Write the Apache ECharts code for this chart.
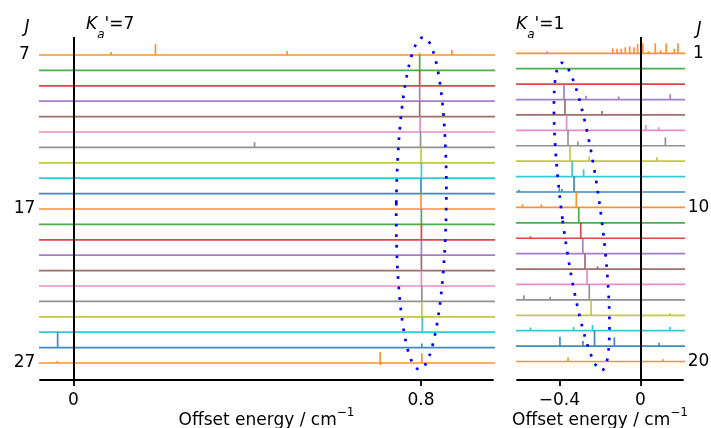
<!DOCTYPE html>
<html><head><meta charset="utf-8">
<script src="https://cdn.jsdelivr.net/npm/echarts@6/dist/echarts.min.js"></script>
<style>html,body{margin:0;padding:0;background:#fff}#c{width:711px;height:428px}</style>
</head><body><div id="c"></div>
<script>
const FONT = 'DejaVu Sans';
const tab10 = ['#1f77b4','#ff7f0e','#2ca02c','#d62728','#9467bd','#8c564b','#e377c2','#7f7f7f','#bcbd22','#17becf'];

// ---- Left panel: K_a' = 7, rows J = 7 .. 27 (top to bottom) ----
const leftTitle = "'=7";
const leftYLabels = ['7', '17', '27'];
const leftYLabelRows = [0, 10, 20];
const leftXTicks = [0, 0.8];
const leftXTickLabels = ['0', '0.8'];
// each row: list of [offset energy (cm-1), peak height in row spacings]
const leftPeaks = [
  [[0.087,0.2],[0.189,0.72],[0.492,0.26],[0.797,0.15],[0.871,0.33]],
  [[0.644,0.08],[0.797,1.0]],
  [[0.797,1.0]],
  [[0.797,1.0]],
  [[0.797,1.0]],
  [[-0.029,-0.1],[0.798,1.0]],
  [[0.417,0.35],[0.799,1.0],[0.908,0.12]],
  [[-0.037,0.07],[0.433,0.1],[0.800,1.0]],
  [[0.801,1.0]],
  [[0.800,1.0]],
  [[0.800,1.0]],
  [[0.801,1.0]],
  [[0.195,0.06],[0.801,1.0]],
  [[0.801,1.0]],
  [[0.801,1.0]],
  [[0.801,1.0]],
  [[0.802,1.0]],
  [[0.802,1.0]],
  [[0.803,1.0]],
  [[-0.036,1.0],[0.491,0.06],[0.802,0.26]],
  [[-0.037,0.13],[0.706,0.71],[0.707,-0.13],[0.802,0.63]]
];

// ---- Right panel: K_a' = 1, rows top to bottom ----
const rightTitle = "'=1";
const rightYLabels = ['1', '10', '20'];
const rightYLabelRows = [0, 10, 20];
const rightXTicks = [-0.4, 0];
const rightXTickLabels = ['\u22120.4', '0'];
const rightPeaks = [
  [[-0.59,0.1],[-0.57,0.12],[-0.545,0.08],[-0.52,0.1],[-0.49,0.08],[-0.46,0.15],[-0.43,0.08],[-0.40,0.1],[-0.36,0.08],[-0.33,0.12],[-0.30,0.08],[-0.27,0.1],[-0.235,0.08],[-0.2,0.1],[-0.165,0.1],[-0.136,0.33],[-0.115,0.3],[-0.094,0.3],[-0.074,0.4],[-0.052,0.45],[-0.031,0.4],[-0.013,0.6],[0.013,0.65],[0.04,0.15],[0.074,0.65],[0.10,0.2],[0.128,0.65],[0.15,0.12],[0.168,0.3],[0.186,0.65],[0.2,0.12]],
  [[-0.5,0.06],[-0.42,0.06],[-0.3,0.08],[-0.22,0.06],[-0.15,0.08],[-0.08,0.06],[0.03,0.06],[0.12,0.06]],
  [[-0.55,0.06],[-0.35,0.06],[-0.16,0.08],[-0.05,0.06],[0.1,0.06]],
  [[-0.377,1.0],[-0.268,0.24],[-0.19,0.08],[-0.107,0.2],[-0.047,0.12],[0.148,0.35]],
  [[-0.56,0.06],[-0.372,1.0],[-0.189,0.26],[-0.13,0.08],[-0.06,0.08],[0.15,0.06]],
  [[-0.364,1.0],[0.028,0.35],[0.091,0.2]],
  [[-0.515,0.1],[-0.357,1.0],[-0.308,0.28],[-0.2,0.08],[0.124,0.56]],
  [[-0.36,0.08],[-0.347,1.0],[-0.252,0.3],[0.082,0.26]],
  [[-0.337,1.0],[-0.28,0.48],[-0.15,0.06]],
  [[-0.6,0.15],[-0.4,0.24],[-0.387,0.2],[-0.327,1.0]],
  [[-0.581,0.2],[-0.489,0.2],[-0.4,0.08],[-0.316,1.0],[-0.252,0.1],[-0.13,0.06]],
  [[-0.304,1.0]],
  [[-0.543,0.13],[-0.294,1.0]],
  [[-0.284,1.0]],
  [[-0.273,1.0],[-0.211,0.18],[-0.07,0.08],[-0.02,0.06]],
  [[-0.263,1.0]],
  [[-0.575,0.3],[-0.515,0.12],[-0.445,0.2],[-0.252,1.0],[-0.19,0.08]],
  [[-0.243,1.0],[0.147,0.13]],
  [[-0.543,0.2],[-0.46,0.1],[-0.40,0.12],[-0.329,0.24],[-0.28,0.12],[-0.236,0.37],[0.147,0.26]],
  [[-0.397,0.6],[-0.283,0.33],[-0.226,1.0],[-0.128,0.55],[0.093,0.22]],
  [[-0.357,0.26],[-0.235,0.12],[0.112,0.15]]
];

const xLabelMain = 'Offset energy / cm';
const xLabelSup = '\u22121';

// layout
const L = {xmin:-0.0766, xmax:0.9657, ymin:-21.104, ymax:1.169, left:40, width:453};
const R = {xmin:-0.609, xmax:0.211, ymin:-21.2, ymax:1.058, left:517, width:166};
const gridTop = 37, gridHeight = 343;

function trace(peaks, row, xmin, xmax) {
  const pts = [[xmin, -row]];
  peaks.slice().sort((a,b)=>a[0]-b[0]).forEach(p => {
    pts.push([p[0], -row], [p[0], -row + p[1]], [p[0], -row]);
  });
  pts.push([xmax, -row]);
  return pts;
}

const series = [];
function addPanel(peaks, gi, P) {
  peaks.forEach((pk, i) => {
    const s = {
      type: 'line', xAxisIndex: gi, yAxisIndex: gi,
      data: trace(pk, i, P.xmin - 0.05, P.xmax + 0.05),
      showSymbol: false, symbol: 'none', animation: false, silent: true,
      lineStyle: {color: tab10[(i + 1) % 10], width: 1.7, opacity: 0.85},
      z: 2
    };
    if (i === 0) {
      s.markLine = {silent: true, symbol: 'none', animation: false, label: {show: false},
        lineStyle: {color: '#000', width: 2, type: 'solid'}, z: 5,
        data: [{xAxis: 0}]};
    }
    series.push(s);
  });
}
addPanel(leftPeaks, 0, L);
addPanel(rightPeaks, 1, R);

const xNameRich = {
  n: {fontFamily: FONT, fontSize: 17, color: '#000', lineHeight: 22, verticalAlign: 'bottom'},
  s: {fontFamily: FONT, fontSize: 12, color: '#000', lineHeight: 12, verticalAlign: 'top'}
};
function xAxisCfg(gi, P, ticks, labels) {
  return {
    type: 'value', gridIndex: gi, min: P.xmin, max: P.xmax,
    splitLine: {show: false},
    axisLine: {show: true, onZero: false, lineStyle: {color: '#000', width: 1.8}},
    axisTick: {show: true, customValues: ticks, length: 6, lineStyle: {color: '#000', width: 1.8}},
    axisLabel: {customValues: ticks, margin: 12, color: '#000', fontFamily: FONT, fontSize: 17,
      formatter: v => { const k = ticks.findIndex(t => Math.abs(t - v) < 1e-6); return k >= 0 ? labels[k] : ''; }},
    name: '{n|' + xLabelMain + '}{s|' + xLabelSup + '}',
    nameLocation: 'middle', nameGap: 27, nameMoveOverlap: false,
    nameTextStyle: {rich: xNameRich}
  };
}
function yAxisCfg(gi, P, rows, labels, pos) {
  const vals = rows.map(r => -r);
  return {
    type: 'value', gridIndex: gi, min: P.ymin, max: P.ymax, position: pos,
    splitLine: {show: false}, axisLine: {show: false}, axisTick: {show: false},
    axisLabel: {customValues: vals, margin: 15.5, align: 'center', color: '#000', fontFamily: FONT, fontSize: 17,
      formatter: v => { const k = vals.findIndex(t => Math.abs(t - v) < 1e-6); return k >= 0 ? labels[k] : ''; }}
  };
}

const titleRich = {
  k: {fontFamily: FONT, fontSize: 17, fontStyle: 'italic', color: '#000', lineHeight: 24, verticalAlign: 'top'},
  a: {fontFamily: FONT, fontSize: 12, fontStyle: 'italic', color: '#000', lineHeight: 4, verticalAlign: 'bottom'},
  n: {fontFamily: FONT, fontSize: 17, color: '#000', lineHeight: 24, verticalAlign: 'top'}
};

const option = {
  animation: false,
  backgroundColor: '#fff',
  grid: [
    {left: L.left, top: gridTop, width: L.width, height: gridHeight, outerBoundsMode: 'none', containLabel: false},
    {left: R.left, top: gridTop, width: R.width, height: gridHeight, outerBoundsMode: 'none', containLabel: false}
  ],
  xAxis: [xAxisCfg(0, L, leftXTicks, leftXTickLabels), xAxisCfg(1, R, rightXTicks, rightXTickLabels)],
  yAxis: [yAxisCfg(0, L, leftYLabelRows, leftYLabels, 'left'), yAxisCfg(1, R, rightYLabelRows, rightYLabels, 'right')],
  series: series
};

const chart = echarts.init(document.getElementById('c'), null, {renderer: 'canvas'});
chart.setOption(option);

// Annotation ellipses (dotted blue) around the K_a'=7 and K_a'=1 peak series
const ellipses = [
  {gi: 0, cx: 0.8007, cy: -9.63, rx: 25, ry: 166, rot: -0.012},
  {gi: 1, cx: -0.2894, cy: -10.59, rx: 19.4, ry: 155, rot: 0.1299}
];
const graphics = ellipses.map(e => {
  const p = chart.convertToPixel({xAxisIndex: e.gi, yAxisIndex: e.gi}, [e.cx, e.cy]);
  return {type: 'ellipse', x: p[0], y: p[1], rotation: e.rot, z: 100, silent: true,
    shape: {cx: 0, cy: 0, rx: e.rx, ry: e.ry},
    style: {fill: null, stroke: '#0000ff', lineWidth: 2.7, lineDash: [2.7, 7.8], lineCap: 'butt'}};
});
graphics.push(
  {type: 'text', x: 86, y: 16.5, z: 100, style: {text: '{k|K}{a|a}{n|' + leftTitle + '}', rich: titleRich}},
  {type: 'text', x: 516, y: 16.5, z: 100, style: {text: '{k|K}{a|a}{n|' + rightTitle + '}', rich: titleRich}},
  {type: 'text', x: 27, y: 28, z: 100, style: {text: 'J', fontFamily: FONT, fontSize: 17, fontStyle: 'italic', fill: '#000', align: 'center', verticalAlign: 'middle'}},
  {type: 'text', x: 699, y: 29.5, z: 100, style: {text: 'J', fontFamily: FONT, fontSize: 17, fontStyle: 'italic', fill: '#000', align: 'center', verticalAlign: 'middle'}}
);
chart.setOption({graphic: graphics});
</script>
</body></html>
